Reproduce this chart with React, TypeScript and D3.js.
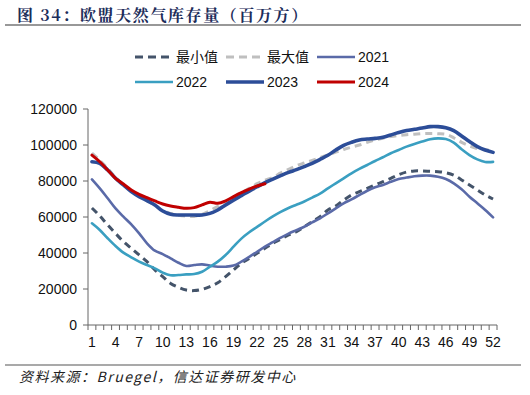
import React, { useEffect, useRef } from 'react';
import * as d3 from 'd3';

// 周次 1..52
const semanas = d3.range(1, 53);
const ticksX = [1, 4, 7, 10, 13, 16, 19, 22, 25, 28, 31, 34, 37, 40, 43, 46, 49, 52];
const ticksY = [0, 20000, 40000, 60000, 80000, 100000, 120000];

const minimo = [
  65000, 60600, 55600, 50900, 46300, 42600, 38900, 35200, 30600, 26900, 23100, 20900, 19400,
  19100, 19800, 21300, 23500, 26900, 30600, 34300, 37000, 39800, 42600, 45400, 47600, 50000,
  51800, 54600, 57400, 60200, 63900, 66100, 69400, 72200, 74100, 75900, 77800, 79600, 81500,
  83500, 85000, 85600, 85600, 85400, 85200, 84600, 83300, 80600, 77800, 75000, 72200, 70000,
];
const maximo = [
  95500, 91500, 87000, 82000, 78000, 74500, 71500, 69000, 66500, 63500, 62000, 61000, 60500,
  60300, 61500, 63500, 66000, 68500, 71000, 73500, 76000, 78500, 80500, 82000, 84500, 86500,
  88500, 90000, 91500, 93000, 94500, 96000, 97500, 98800, 100000, 101500, 102800, 103800, 104700,
  105300, 105700, 106000, 106300, 106400, 106300, 106000, 104000, 101500, 99500, 98000, 97200, 97300,
];
const s2021 = [
  80900, 75900, 70400, 64800, 60200, 55900, 50900, 45400, 41300, 39400, 37000, 34600, 32800,
  33300, 33700, 33000, 32400, 32400, 33000, 35200, 37900, 40700, 43500, 46000, 48500, 50800,
  52700, 54600, 57000, 59300, 62000, 64800, 67600, 69800, 72200, 74600, 76500, 77800, 79600,
  81100, 81900, 82600, 83000, 83000, 82400, 81100, 78700, 75400, 71300, 67600, 63900, 59800,
];
const s2022 = [
  56500, 52800, 48200, 43900, 40200, 37600, 35200, 33300, 31500, 29100, 27600, 27800, 28100,
  28300, 29600, 32400, 35200, 38900, 43500, 48000, 51500, 54500, 57500, 60300, 62800, 65000,
  66800, 68600, 70800, 73000, 75900, 78700, 81500, 84300, 86700, 88900, 91100, 93200, 95400,
  97200, 99100, 100600, 101900, 103200, 103700, 103300, 101300, 97600, 94400, 92000, 90600, 90600,
];
const s2023 = [
  90700, 89800, 86100, 81500, 77800, 74100, 71300, 69100, 66700, 63300, 61500, 61100, 61100,
  61100, 61100, 62000, 63900, 66700, 69400, 71900, 74400, 76800, 79100, 81100, 83000, 84800,
  86300, 88000, 89800, 92000, 94300, 97200, 99800, 101500, 102800, 103300, 103700, 104300, 105600,
  106900, 108000, 108700, 109400, 110200, 110200, 109600, 108000, 105000, 101900, 99100, 97200, 95900,
];
const s2024 = [
  94400, 90700, 86100, 81500, 78300, 75000, 72600, 70700, 68900, 67200, 66100, 65400, 64800,
  65200, 66700, 68200, 67600, 69000, 71300, 73500, 75500, 77200, 78500,
];

const series = [
  { nome: '最小值', valores: minimo, cor: '#44546a', largura: 3, traco: '7,5' },
  { nome: '最大值', valores: maximo, cor: '#bfbfbf', largura: 3, traco: '7,5' },
  { nome: '2021', valores: s2021, cor: '#5a6aa8', largura: 2.6, traco: null },
  { nome: '2022', valores: s2022, cor: '#3a9fc1', largura: 2.6, traco: null },
  { nome: '2023', valores: s2023, cor: '#2c4d98', largura: 3.6, traco: null },
  { nome: '2024', valores: s2024, cor: '#c00000', largura: 3, traco: null },
];

const fonte = 'Liberation Sans, Arial, "Noto Sans CJK SC", sans-serif';

export default function App() {
  const svgRef = useRef(null);

  useEffect(() => {
    const svg = d3.select(svgRef.current);
    svg.selectAll('*').remove();

    const x = d3.scaleBand().domain(semanas.map(String)).range([88, 497]);
    const y = d3.scaleLinear().domain([0, 120000]).range([325, 109]);
    const cx = (w) => x(String(w)) + x.bandwidth() / 2;

    // título
    svg.append('text')
      .attr('x', 17)
      .attr('y', 21)
      .attr('fill', '#1c2d5a')
      .style('font-family', '"Noto Serif CJK SC", "Noto Sans CJK SC", serif')
      .style('font-size', '16px')
      .style('font-weight', 'bold')
      .style('letter-spacing', '1.6px')
      .text('图 34：欧盟天然气库存量（百万方）');
    svg.append('line')
      .attr('x1', 5).attr('x2', 521).attr('y1', 25).attr('y2', 25)
      .attr('stroke', '#333').attr('stroke-width', 1.2);

    // rodapé
    svg.append('line')
      .attr('x1', 5).attr('x2', 521).attr('y1', 365).attr('y2', 365)
      .attr('stroke', '#555').attr('stroke-width', 1.2);
    svg.append('text')
      .attr('x', 19)
      .attr('y', 382)
      .attr('fill', '#222')
      .style('font-family', '"Noto Sans CJK SC", serif')
      .style('font-style', 'italic')
      .style('font-size', '14px')
      .style('letter-spacing', '1.5px')
      .text('资料来源：Bruegel，信达证券研发中心');

    // eixo Y
    svg.append('line')
      .attr('x1', 88).attr('x2', 88).attr('y1', y(120000)).attr('y2', y(0))
      .attr('stroke', '#666');
    ticksY.forEach((v) => {
      svg.append('line')
        .attr('x1', 83).attr('x2', 88).attr('y1', y(v)).attr('y2', y(v))
        .attr('stroke', '#666');
      svg.append('text')
        .attr('x', 77)
        .attr('y', y(v) + 5)
        .attr('text-anchor', 'end')
        .attr('fill', '#111')
        .style('font-family', fonte)
        .style('font-size', '14px')
        .text(v);
    });

    // eixo X
    svg.append('line')
      .attr('x1', 88).attr('x2', 497).attr('y1', 325).attr('y2', 325)
      .attr('stroke', '#666');
    semanas.concat([53]).forEach((w) => {
      const px = w === 53 ? 497 : x(String(w));
      svg.append('line')
        .attr('x1', px).attr('x2', px).attr('y1', 325).attr('y2', 330)
        .attr('stroke', '#666');
    });
    ticksX.forEach((w) => {
      svg.append('text')
        .attr('x', cx(w))
        .attr('y', 347)
        .attr('text-anchor', 'middle')
        .attr('fill', '#111')
        .style('font-family', fonte)
        .style('font-size', '14px')
        .text(w);
    });

    // linhas
    const linha = d3.line()
      .x((d, i) => cx(i + 1))
      .y((d) => y(d))
      .curve(d3.curveCatmullRom.alpha(0.5));

    series.forEach((s) => {
      const p = svg.append('path')
        .attr('d', linha(s.valores))
        .attr('fill', 'none')
        .attr('stroke', s.cor)
        .attr('stroke-width', s.largura)
        .attr('stroke-linejoin', 'round');
      if (s.traco) p.attr('stroke-dasharray', s.traco);
      else p.attr('stroke-linecap', 'round');
    });

    // legenda
    const colunas = [135, 226, 317];
    series.forEach((s, i) => {
      const lx = colunas[i % 3];
      const ly = i < 3 ? 57 : 82;
      const l = svg.append('line')
        .attr('x1', lx).attr('x2', lx + 38).attr('y1', ly).attr('y2', ly)
        .attr('stroke', s.cor)
        .attr('stroke-width', s.largura);
      if (s.traco) l.attr('stroke-dasharray', '8,5');
      svg.append('text')
        .attr('x', lx + 41)
        .attr('y', ly + 5)
        .attr('fill', '#111')
        .style('font-family', fonte)
        .style('font-size', '14px')
        .text(s.nome);
    });
  }, []);

  return (
    <svg
      ref={svgRef}
      width={530}
      height={395}
      style={{ position: 'absolute', left: 0, top: 0, background: '#fff' }}
    />
  );
}
